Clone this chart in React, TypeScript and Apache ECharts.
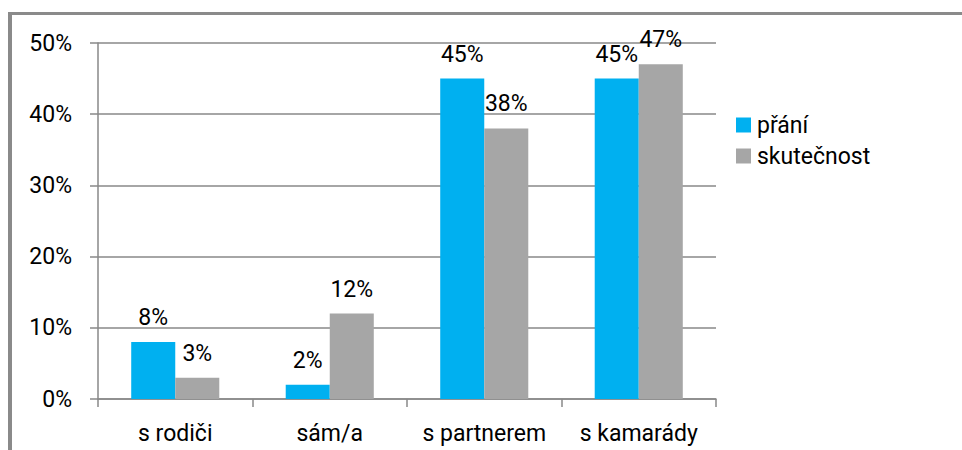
import React, { useEffect, useRef } from "react";
import * as echarts from "echarts";

const categories = ["s rodiči", "sám/a", "s partnerem", "s kamarády"];
const praniValues = [8, 2, 45, 45];
const skutecnostValues = [3, 12, 38, 47];
const seriesNames = ["přání", "skutečnost"];
const yTicks = { min: 0, max: 50, interval: 10 };

const FONT = "Roboto";
const FS = 23;

export default function App() {
  const ref = useRef<HTMLDivElement>(null);
  useEffect(() => {
    if (!ref.current) return;
    const chart = echarts.init(ref.current, undefined, { renderer: "svg" });
    const labelCfg = {
      show: true,
      position: "top" as const,
      distance: 13,
      formatter: "{c}%",
      color: "#000",
      fontFamily: FONT,
      fontSize: FS,
    };
    chart.setOption({
      animation: false,
      backgroundColor: "#fff",
      textStyle: { fontFamily: FONT },
      graphic: [
        { type: "rect", shape: { x: 8, y: 12, width: 954, height: 3 }, style: { fill: "#8a8a8a" }, silent: true },
        { type: "rect", shape: { x: 8, y: 12, width: 4, height: 438 }, style: { fill: "#8a8a8a" }, silent: true },
      ],
      grid: { left: 98, right: 246, top: 43, bottom: 51, containLabel: false },
      legend: {
        orient: "vertical",
        left: 731,
        top: 108,
        itemWidth: 15,
        itemHeight: 15,
        itemGap: 7,
        icon: "rect",
        data: seriesNames,
        textStyle: { fontFamily: FONT, fontSize: FS, color: "#000", lineHeight: 24, padding: [0, 0, 0, 1] },
      },
      xAxis: {
        type: "category",
        data: categories,
        boundaryGap: true,
        axisLine: { show: true, lineStyle: { color: "#898989", width: 1.5 } },
        axisTick: { show: true, length: 8, alignWithLabel: false, lineStyle: { color: "#898989", width: 1.5 } },
        axisLabel: { color: "#000", fontFamily: FONT, fontSize: FS, margin: 23, interval: 0 },
      },
      yAxis: {
        type: "value",
        min: yTicks.min,
        max: yTicks.max,
        interval: yTicks.interval,
        axisLine: { show: true, lineStyle: { color: "#898989", width: 1.5 } },
        axisTick: { show: true, length: 8, lineStyle: { color: "#898989", width: 1.5 } },
        axisLabel: { color: "#000", fontFamily: FONT, fontSize: FS, margin: 26, formatter: "{value}%" },
        splitLine: { show: true, lineStyle: { color: "#898989", width: 1.5 } },
      },
      series: [
        {
          name: seriesNames[0],
          type: "bar",
          data: praniValues,
          barGap: "0%",
          barCategoryGap: "43%",
          itemStyle: { color: "#00B0F0" },
          label: labelCfg,
        },
        {
          name: seriesNames[1],
          type: "bar",
          data: skutecnostValues,
          barGap: "0%",
          barCategoryGap: "43%",
          itemStyle: { color: "#A6A6A6" },
          label: labelCfg,
        },
      ],
    });
    return () => chart.dispose();
  }, []);
  return (
    <div
      ref={ref}
      style={{ position: "fixed", left: 0, top: 0, width: 962, height: 450, background: "#fff" }}
    />
  );
}
